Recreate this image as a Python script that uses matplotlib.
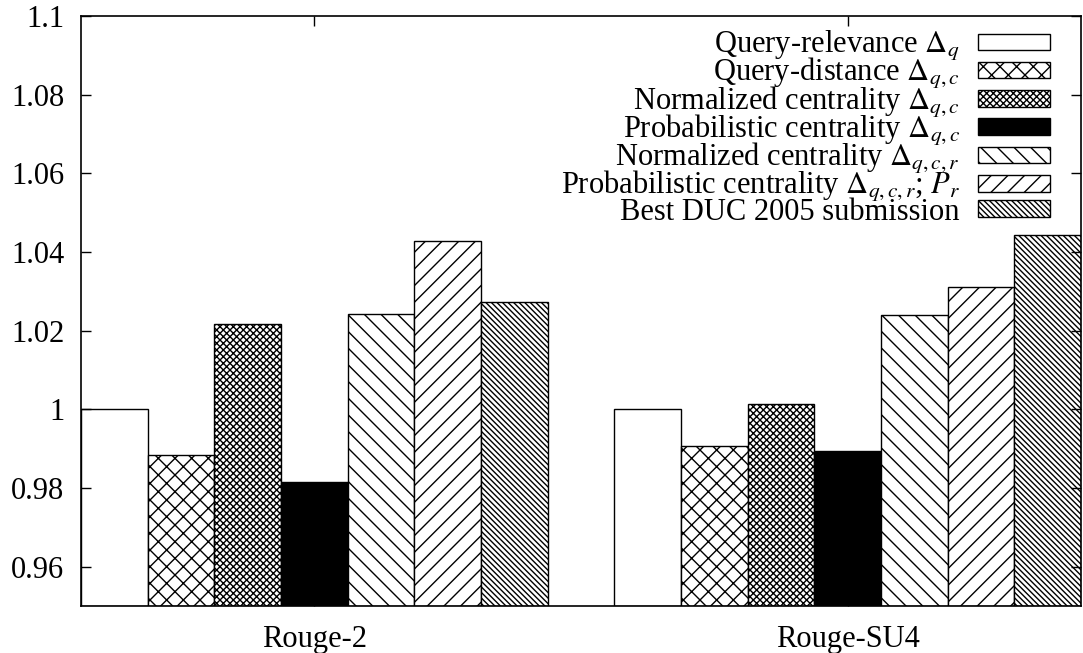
import matplotlib
matplotlib.use("Agg")
import matplotlib.pyplot as plt
import numpy as np

# metrics and methods
groups = ["Rouge-2", "Rouge-SU4"]
methods = [
    r"Query-relevance $\Delta_q$",
    r"Query-distance $\Delta_{q,c}$",
    r"Normalized centrality $\Delta_{q,c}$",
    r"Probabilistic centrality $\Delta_{q,c}$",
    r"Normalized centrality $\Delta_{q,c,r}$",
    r"Probabilistic centrality $\Delta_{q,c,r}$; $P_r$",
    "Best DUC 2005 submission",
]
rouge2 = [1.0, 0.9885, 1.0217, 0.9815, 1.0243, 1.0429, 1.0273]
rougesu4 = [1.0, 0.9907, 1.0014, 0.9895, 1.0241, 1.0311, 1.0444]

fills = ["white", "white", "white", "black", "white", "white", "white"]
hatches = ["", "xx", "xxxxx", "", "\\\\", "//", "\\" * 6]

plt.rcParams["font.family"] = "Liberation Serif"
plt.rcParams["mathtext.fontset"] = "stix"
plt.rcParams["font.size"] = 22
plt.rcParams["hatch.linewidth"] = 1.0

fig = plt.figure(figsize=(10.83, 6.53), dpi=100)
ax = fig.add_axes([81 / 1083, 47 / 653, 1000 / 1083, 590 / 653])

values = [rouge2, rougesu4]
for i in range(len(methods)):
    xs = [g * 8 + i for g in range(len(groups))]
    ys = [values[g][i] - 0.95 for g in range(len(groups))]
    ax.bar(xs, ys, width=1.0, bottom=0.95, color=fills[i], edgecolor="black",
           hatch=hatches[i], linewidth=1.0, label=methods[i])

ax.set_xlim(-0.5, 14.5)
ax.set_ylim(0.95, 1.1)
ax.set_xticks([3, 11])
ax.set_xticklabels(groups)
yt = [0.96, 0.98, 1.0, 1.02, 1.04, 1.06, 1.08, 1.1]
ax.set_yticks(yt)
ax.set_yticklabels(["%g" % v for v in yt])
ax.tick_params(direction="in", length=7, width=1, top=True, right=True)
ax.tick_params(axis="y", pad=12)
ax.tick_params(axis="x", pad=14)
for s in ax.spines.values():
    s.set_linewidth(1.2)

ax.legend(loc="upper right", bbox_to_anchor=(0.969, 0.978), frameon=False,
          markerfirst=False, borderpad=0, borderaxespad=0, handlelength=2.35,
          handleheight=0.46, handletextpad=0.6, labelspacing=-0.22, fontsize=22)

fig.savefig("out.png", dpi=100)
